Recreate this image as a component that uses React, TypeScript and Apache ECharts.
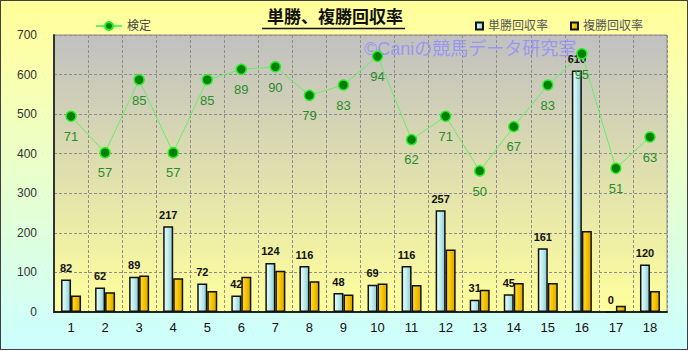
import React, { useEffect, useRef } from "react";
import * as echarts from "echarts";

const categories = ["1", "2", "3", "4", "5", "6", "7", "8", "9", "10", "11", "12", "13", "14", "15", "16", "17", "18"];
const tanshoRate = [82, 62, 89, 217, 72, 42, 124, 116, 48, 69, 116, 257, 31, 45, 161, 610, 0, 120];
const fukushoRate = [42, 50, 92, 85, 53, 89, 104, 78, 44, 72, 68, 158, 56, 73, 73, 205, 16, 53];
const kenteiRate = [71, 57, 85, 57, 85, 89, 90, 79, 83, 94, 62, 71, 50, 67, 83, 95, 51, 63];

const FONT = "'Liberation Sans', 'Noto Sans CJK JP', sans-serif";

export default function App() {
  const ref = useRef<HTMLDivElement>(null);

  useEffect(() => {
    document.body.style.margin = "0";
    const chart = echarts.init(ref.current!, undefined, { renderer: "svg" });
    const tanColor = new echarts.graphic.LinearGradient(0, 0, 1, 0, [
      { offset: 0, color: "#E8FFFF" },
      { offset: 0.45, color: "#C4EEF0" },
      { offset: 1, color: "#8CCBD2" },
    ]);
    const fukuColor = new echarts.graphic.LinearGradient(0, 0, 1, 0, [
      { offset: 0, color: "#FFDA3A" },
      { offset: 0.5, color: "#F5C400" },
      { offset: 1, color: "#D9A400" },
    ]);
    chart.setOption({
      animation: false,
      textStyle: { fontFamily: FONT },
      title: {
        text: "単勝、複勝回収率",
        left: 262,
        top: 4,
        textStyle: { fontSize: 17, fontWeight: "bold", color: "#111", fontFamily: FONT },
      },
      graphic: [
        {
          type: "line",
          shape: { x1: 262, y1: 28.5, x2: 405, y2: 28.5 },
          style: { stroke: "#111", lineWidth: 1.5 },
        },
        {
          type: "text",
          left: 364,
          top: 40,
          z: 1,
          style: {
            text: "©Caniの競馬データ研究室",
            fontSize: 18,
            fontFamily: FONT,
            fill: "rgba(140,140,255,0.8)",
          },
        },
      ],
      legend: [
        {
          data: ["検定"],
          left: 90,
          top: 15,
          itemWidth: 26,
          itemHeight: 10,
          textStyle: { fontSize: 12, color: "#444", fontFamily: FONT },
        },
        {
          data: ["単勝回収率", "複勝回収率"],
          left: 470,
          top: 15,
          icon: "rect",
          itemWidth: 7,
          itemHeight: 7,
          itemGap: 22,
          textStyle: { fontSize: 12, color: "#555", fontFamily: FONT },
        },
      ],
      grid: {
        left: 54,
        top: 35,
        width: 613,
        height: 277,
        show: true,
        borderColor: "#8a8a8a",
        borderWidth: 1,
        backgroundColor: new echarts.graphic.LinearGradient(0, 0, 0, 1, [
          { offset: 0, color: "#C0C0C0" },
          { offset: 1, color: "#FFFF9C" },
        ]),
      },
      xAxis: {
        type: "category",
        data: categories,
        axisLine: { show: true, lineStyle: { color: "#222", width: 2 } },
        axisTick: { show: false },
        axisLabel: { fontSize: 13, color: "#111", margin: 9, fontFamily: FONT },
        splitLine: { show: true, interval: 0, lineStyle: { type: [3, 2], color: "#8e8e8e", width: 1 } },
      },
      yAxis: [
        {
          type: "value",
          min: 0,
          max: 700,
          interval: 100,
          axisLine: { show: true, lineStyle: { color: "#333", width: 2 } },
          axisTick: { show: false },
          axisLabel: { fontSize: 12, color: "#333", margin: 17, fontFamily: FONT },
          splitLine: { show: true, lineStyle: { type: [3, 2], color: "#8e8e8e", width: 1 } },
        },
        {
          type: "value",
          min: -4.2,
          max: 102.2,
          show: false,
          splitLine: { show: false },
        },
      ],
      series: [
        {
          name: "単勝回収率",
          type: "bar",
          data: tanshoRate,
          barWidth: 10,
          barGap: "0%",
          itemStyle: { color: tanColor, borderColor: "#111", borderWidth: 1.5 },
          label: {
            show: true,
            position: "top",
            distance: 6,
            fontSize: 11,
            fontWeight: "bold",
            color: "#111",
            fontFamily: FONT,
          },
          z: 3,
        },
        {
          name: "複勝回収率",
          type: "bar",
          data: fukushoRate,
          barWidth: 10,
          itemStyle: { color: fukuColor, borderColor: "#111", borderWidth: 1.5 },
          z: 3,
        },
        {
          name: "検定",
          type: "line",
          yAxisIndex: 1,
          data: kenteiRate,
          symbol: "circle",
          symbolSize: 10,
          lineStyle: { color: "#66EE66", width: 1 },
          itemStyle: { color: "#008000", borderColor: "#22EE22", borderWidth: 1.5 },
          label: {
            show: true,
            position: "bottom",
            distance: 8,
            fontSize: 13,
            color: "#2a8c2a",
            fontFamily: FONT,
          },
          z: 5,
        },
      ],
    });
    return () => chart.dispose();
  }, []);

  return (
    <div style={{ position: "fixed", left: 0, top: 0, width: 688, height: 351 }}>
      <div
        style={{
          position: "absolute",
          left: 0,
          top: 0,
          width: 688,
          height: 350,
          boxSizing: "border-box",
          border: "1px solid #404040",
          background: "linear-gradient(to bottom, #FFFF99 0%, #FFFFA4 10%, #CCFFFF 100%)",
        }}
      />
      <div ref={ref} style={{ position: "absolute", left: 0, top: 0, width: 688, height: 351 }} />
    </div>
  );
}
